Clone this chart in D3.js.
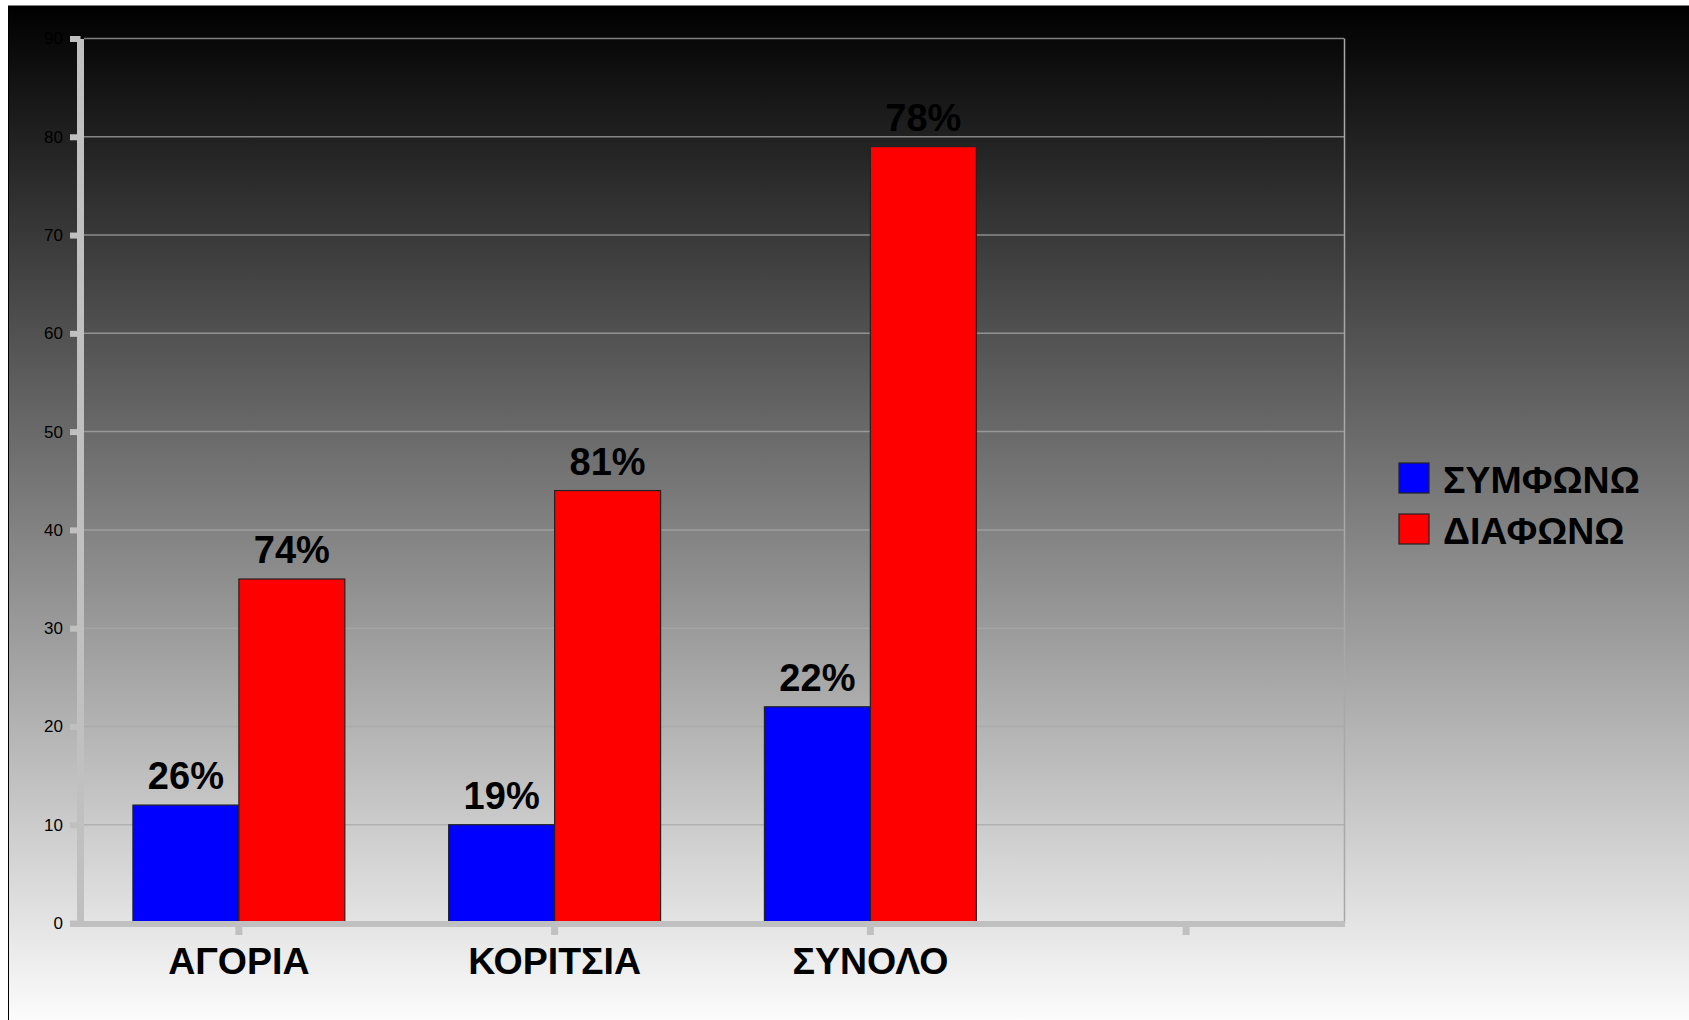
<!DOCTYPE html>
<html>
<head>
<meta charset="utf-8">
<script src="https://cdn.jsdelivr.net/npm/d3@7"></script>
<style>
  body { margin: 0; background: #fff; }
  text { font-family: "Liberation Sans", Arial, sans-serif; }
</style>
</head>
<body>
<div id="chart-area"></div>
<script>
/*
*    main.js
*/
var categories = ["ΑΓΟΡΙΑ", "ΚΟΡΙΤΣΙΑ", "ΣΥΝΟΛΟ", ""];
var seriesNames = ["ΣΥΜΦΩΝΩ", "ΔΙΑΦΩΝΩ"];
var seriesColors = ["#0000ff", "#ff0000"];
var agreeValues = [12, 10, 22];
var disagreeValues = [35, 44, 79];
var agreeLabels = ["26%", "19%", "22%"];
var disagreeLabels = ["74%", "81%", "78%"];
var yTicks = [0, 10, 20, 30, 40, 50, 60, 70, 80, 90];

var width = 1689;
var height = 1020;

var svg = d3.select("#chart-area")
    .append("svg")
        .attr("width", width)
        .attr("height", height);

// background gradient, black on top to white at the bottom
var grad = svg.append("defs").append("linearGradient")
    .attr("id", "bg")
    .attr("x1", 0).attr("y1", 0)
    .attr("x2", 0).attr("y2", 1);
grad.append("stop").attr("offset", "0%").attr("stop-color", "#000");
grad.append("stop").attr("offset", "100%").attr("stop-color", "#fcfcfc");

svg.append("rect")
    .attr("x", 8.5)
    .attr("y", 6)
    .attr("width", width - 8)
    .attr("height", height - 5)
    .attr("fill", "url(#bg)")
    .attr("stroke", "#000")
    .attr("stroke-width", 1);

var plotLeft = 84, plotRight = 1344, plotTop = 39, zeroY = 923;

var x = d3.scaleBand()
    .domain(categories)
    .range([81, 1344]);

var x1 = d3.scaleBand()
    .domain(seriesNames)
    .range([0, x.bandwidth()])
    .paddingOuter(0.49);

var y = d3.scaleLinear()
    .domain([0, 90])
    .range([zeroY, 38.5]);

var color = d3.scaleOrdinal()
    .domain(seriesNames)
    .range(seriesColors);

// gridlines
svg.append("g")
    .selectAll("line")
    .data(yTicks.filter((d) => { return d > 0; }))
    .enter()
    .append("line")
        .attr("x1", plotLeft)
        .attr("x2", plotRight)
        .attr("y1", (d) => { return y(d); })
        .attr("y2", (d) => { return y(d); })
        .attr("stroke", "#a8a8a8")
        .attr("stroke-opacity", 0.75)
        .attr("stroke-width", 1.5);

// right border of plot area
svg.append("line")
    .attr("x1", plotRight + 0.5)
    .attr("x2", plotRight + 0.5)
    .attr("y1", y(90))
    .attr("y2", zeroY)
    .attr("stroke", "#a8a8a8")
    .attr("stroke-width", 1.5);

// bars
var rows = categories.slice(0, 3).map((c, i) => {
    return {
        cat: c,
        vals: [
            {s: seriesNames[0], v: agreeValues[i], label: agreeLabels[i]},
            {s: seriesNames[1], v: disagreeValues[i], label: disagreeLabels[i]}
        ]
    };
});

var groups = svg.selectAll("g.group")
    .data(rows)
    .enter()
    .append("g")
        .attr("class", "group")
        .attr("transform", (d) => { return "translate(" + x(d.cat) + ",0)"; });

groups.selectAll("rect")
    .data((d) => { return d.vals; })
    .enter()
    .append("rect")
        .attr("x", (d) => { return x1(d.s); })
        .attr("y", (d) => { return y(d.v); })
        .attr("width", x1.bandwidth())
        .attr("height", (d) => { return zeroY - y(d.v); })
        .attr("fill", (d) => { return color(d.s); })
        .attr("stroke", "#222")
        .attr("stroke-width", 1.2);

groups.selectAll("text")
    .data((d) => { return d.vals; })
    .enter()
    .append("text")
        .attr("x", (d) => { return x1(d.s) + x1.bandwidth() / 2; })
        .attr("y", (d) => { return y(d.v) - 16; })
        .attr("text-anchor", "middle")
        .attr("font-size", "38px")
        .attr("font-weight", "bold")
        .attr("fill", "#000")
        .text((d) => { return d.label; });

// y axis
var yAxisCall = d3.axisLeft(y)
    .tickValues(yTicks)
    .tickSize(10.5)
    .tickSizeOuter(0)
    .tickPadding(7);

var yAxis = svg.append("g")
    .attr("class", "left axis")
    .attr("transform", "translate(80.5, 0)")
    .call(yAxisCall);

yAxis.select(".domain")
    .attr("d", "M0," + (plotTop) + "V" + (zeroY + 4))
    .attr("stroke", "#c0c0c0")
    .attr("stroke-width", 7);
yAxis.selectAll(".tick line")
    .attr("stroke", "#c0c0c0")
    .attr("stroke-width", 6);
yAxis.selectAll(".tick text")
    .attr("font-size", "17px")
    .attr("font-family", "'Liberation Sans', Arial, sans-serif")
    .attr("fill", "#000");

// x axis
var xAxisCall = d3.axisBottom(x)
    .tickSize(11)
    .tickSizeOuter(0)
    .tickPadding(12);

var xAxis = svg.append("g")
    .attr("class", "bottom axis")
    .attr("transform", "translate(0, " + (zeroY + 1) + ")")
    .call(xAxisCall);

xAxis.select(".domain")
    .attr("d", "M70,0H" + (plotRight + 1))
    .attr("stroke", "#c0c0c0")
    .attr("stroke-width", 6);
xAxis.selectAll(".tick line")
    .attr("stroke", "#c0c0c0")
    .attr("stroke-width", 7);
xAxis.selectAll(".tick text")
    .attr("font-size", "37.5px")
    .attr("font-weight", "bold")
    .attr("font-family", "'Liberation Sans', Arial, sans-serif")
    .attr("fill", "#000");

// legend
var legend = svg.append("g")
    .attr("transform", "translate(1399, 463)");

var items = legend.selectAll("g")
    .data(seriesNames)
    .enter()
    .append("g")
        .attr("transform", (d, i) => { return "translate(0," + (i * 51) + ")"; });

items.append("rect")
    .attr("width", 30)
    .attr("height", 30)
    .attr("fill", (d) => { return color(d); })
    .attr("stroke", "#222")
    .attr("stroke-width", 1.2);

items.append("text")
    .attr("x", 44)
    .attr("y", 29.5)
    .attr("font-size", "37.5px")
    .attr("font-weight", "bold")
    .attr("fill", "#000")
    .text((d) => { return d; });
</script>
</body>
</html>
